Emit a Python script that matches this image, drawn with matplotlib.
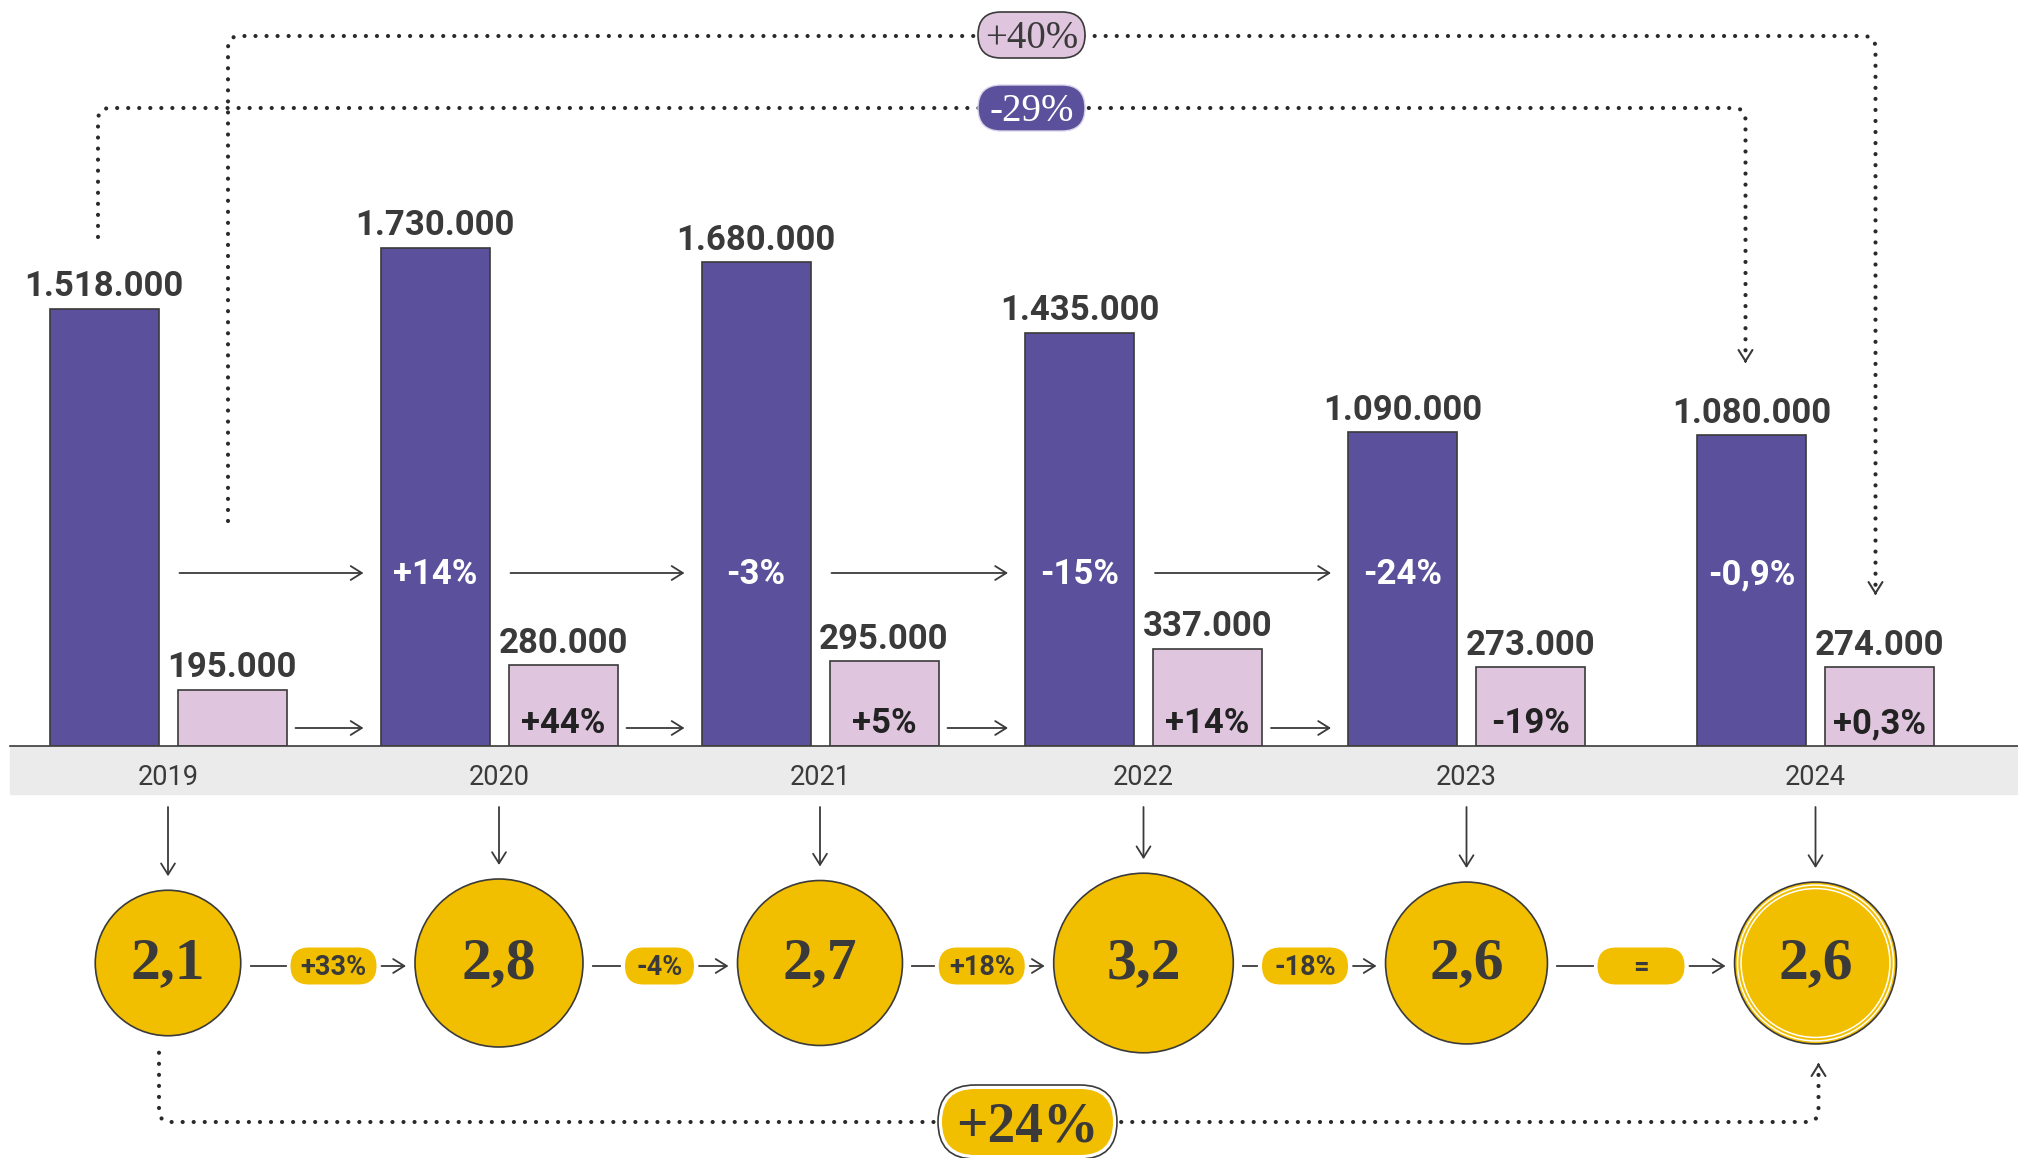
import matplotlib.pyplot as plt
import numpy as np
from matplotlib.patches import Circle, FancyBboxPatch, PathPatch, Rectangle
from matplotlib.path import Path

# ----------------------------------------------------
# Datos
# ----------------------------------------------------
years = ['2019', '2020', '2021', '2022', '2023', '2024']
total = [1518, 1730, 1680, 1435, 1090, 1080]      # miles
total_change = ['', '+14%', '-3%', '-15%', '-24%', '-0,9%']
small = [195, 280, 295, 337, 273, 274]            # miles
small_change = ['', '+44%', '+5%', '+14%', '-19%', '+0,3%']
ratio = [2.1, 2.8, 2.7, 3.2, 2.6, 2.6]
ratio_labels = ['2,1', '2,8', '2,7', '3,2', '2,6', '2,6']
ratio_change = ['+33%', '-4%', '+18%', '-18%', '=']
total_span = '-29%'
small_span = '+40%'
ratio_span = '+24%'

PURPLE = '#5b509b'
PINK = '#dfc6de'
YELLOW = '#f2be00'
DARK = '#3a3a3a'
BAND = '#ebebeb'
SANS = ['Roboto', 'DejaVu Sans']
SERIF = ['Liberation Serif', 'DejaVu Serif']

# ----------------------------------------------------
# Layout (pixels)
# ----------------------------------------------------
W, H = 2018, 1158
base = 746                 # fila de la linea base
px_per_k = 0.2879          # pixeles por mil
centers = np.array([168, 499, 820, 1143.5, 1466.5, 1815.5])
bw = 109
xp = centers - 64          # barras moradas
xk = centers + 64          # barras rosas
bub_y = 963

fig = plt.figure(figsize=(W / 100, H / 100), dpi=100)
axb = fig.add_axes([0, (H - base) / H, 1, base / H])
axb.set_xlim(0, W)
axb.set_ylim(0, base / px_per_k)
axb.axis('off')

ax = fig.add_axes([0, 0, 1, 1])
ax.set_xlim(0, W)
ax.set_ylim(H, 0)
ax.axis('off')


def row_of(v):
    # fila (overlay) de un valor del eje de barras
    return ax.transData.inverted().transform(axb.transData.transform((0, v)))[1]


def arrow(x0, y0, x1, y1, lw=1.3, ms=10):
    ax.annotate('', xy=(x1, y1), xytext=(x0, y0),
                arrowprops=dict(arrowstyle='->,head_length=0.8,head_width=0.5',
                                color=DARK, lw=lw, shrinkA=0, shrinkB=0,
                                mutation_scale=ms))


def dotted(pts, r=12):
    verts, codes = [pts[0]], [Path.MOVETO]
    for k in range(1, len(pts) - 1):
        p0, p1, p2 = (np.array(p, float) for p in pts[k - 1:k + 2])
        d0 = (p1 - p0) / np.linalg.norm(p1 - p0)
        d1 = (p2 - p1) / np.linalg.norm(p2 - p1)
        verts += [p1 - d0 * r, p1, p1 + d1 * r]
        codes += [Path.LINETO, Path.CURVE3, Path.CURVE3]
    verts.append(pts[-1])
    codes.append(Path.LINETO)
    ax.add_patch(PathPatch(Path(verts, codes), fill=False, ec='#2a2a2a', lw=3.0,
                           linestyle=(0, (0.01, 2.64)), capstyle='round', zorder=2))


def pill(xc, yc, w, h, fc, ec='none', lw=1.2, z=4):
    ax.add_patch(FancyBboxPatch((xc - w / 2, yc - h / 2), w, h,
                                boxstyle=f'round,pad=0,rounding_size={h / 2}',
                                fc=fc, ec=ec, lw=lw, zorder=z))


# ----------------------------------------------------
# Barras
# ----------------------------------------------------
axb.bar(xp, total, width=bw, color=PURPLE, edgecolor=DARK, linewidth=1.2)
axb.bar(xk, small, width=bw, color=PINK, edgecolor=DARK, linewidth=1.2)

for x, v in zip(xp, total):
    axb.annotate(f'{v * 1000:,}'.replace(',', '.'), (x, v), xytext=(0, 9),
                 textcoords='offset points', ha='center', va='baseline',
                 fontsize=25, fontweight='bold', family=SANS, color=DARK)
for x, v in zip(xk, small):
    axb.annotate(f'{v * 1000:,}'.replace(',', '.'), (x, v), xytext=(0, 9),
                 textcoords='offset points', ha='center', va='baseline',
                 fontsize=25, fontweight='bold', family=SANS, color=DARK)

for i in range(1, len(years)):
    ax.text(xp[i], 584, total_change[i], ha='center', va='baseline', fontsize=25,
            fontweight='bold', family=SANS, color='white', zorder=5)
    ax.text(xk[i], 733, small_change[i], ha='center', va='baseline', fontsize=25,
            fontweight='bold', family=SANS, color='#222222', zorder=5)

# flechas entre anos (2019 -> 2023)
for i in range(4):
    arrow(xk[i] - bw / 2 + 2, 573, xp[i + 1] - bw / 2 - 17, 573)
    arrow(xk[i] + bw / 2 + 9, 728, xp[i + 1] - bw / 2 - 17, 728)

# banda de anos
ax.add_patch(Rectangle((10, base), W - 10, 48, color=BAND, zorder=0))
ax.plot([10, W], [base, base], color=DARK, lw=1.2, zorder=3)
for c, y in zip(centers, years):
    ax.text(c, 785, y, ha='center', va='baseline', fontsize=19.5, family=SANS, color=DARK)

# ----------------------------------------------------
# Burbujas
# ----------------------------------------------------
radii = 50.2 * np.sqrt(ratio)
for i, (c, r, lab) in enumerate(zip(centers, radii, ratio_labels)):
    ax.add_patch(Circle((c, bub_y), r, fc=YELLOW, ec=DARK, lw=1.2, zorder=3))
    if i == len(ratio) - 1:
        ax.add_patch(Circle((c, bub_y), r - 3, fill=False, ec='white', lw=1.1, zorder=3))
        ax.add_patch(Circle((c, bub_y), r - 6.5, fill=False, ec='white', lw=1.1, zorder=3))
    ax.text(c, bub_y + 15, lab, ha='center', va='baseline', fontsize=43,
            fontweight='bold', family=SERIF, color=DARK, zorder=5)
    arrow(c, 807, c, bub_y - r - 14)

for i, t in enumerate(ratio_change):
    pc = (centers[i] + centers[i + 1]) / 2
    pw = 18 + 17 * len(t) if len(t) > 1 else 87
    pill(pc, 966, pw, 37, YELLOW)
    ax.text(pc, 975, t, ha='center', va='baseline', fontsize=19.5, fontweight='bold',
            family=SANS, color=DARK, zorder=5)
    ax.plot([centers[i] + radii[i] + 10, pc - pw / 2 - 5], [966, 966], color=DARK, lw=1.3)
    arrow(pc + pw / 2 + 5, 966, centers[i + 1] - radii[i + 1] - 9, 966)

# ----------------------------------------------------
# Conectores punteados
# ----------------------------------------------------
# morado 2019 -> 2024
x0, x1 = xp[0] - 6, xp[-1] - 6
tip = row_of(total[-1]) - 72
dotted([(x0, row_of(total[0]) - 72), (x0, 108), (x1, 108), (x1, tip - 4)])
arrow(x1, tip - 3, x1, tip, lw=1.5)
pill(1031.5, 108, 107, 46, PURPLE, ec='#d9d4ea', lw=1.0)
ax.text(1031.5, 121, total_span, ha='center', va='baseline', fontsize=28,
        family=SERIF, color='white', zorder=5)

# rosa 2019 -> 2024
x0, x1 = xk[0] - 4, xk[-1] - 4
tip = row_of(small[-1]) - 72
dotted([(x0, 521), (x0, 36), (x1, 36), (x1, tip - 4)])
arrow(x1, tip - 3, x1, tip, lw=1.5)
pill(1031.5, 35, 107, 46, PINK, ec=DARK, lw=1.2)
ax.text(1031.5, 48, small_span, ha='center', va='baseline', fontsize=28,
        family=SERIF, color=DARK, zorder=5)

# burbujas 2019 -> 2024
x0, x1 = centers[0] - 9, centers[-1] + 3
tip = bub_y + radii[-1] + 19
dotted([(x0, bub_y + radii[0] + 17), (x0, 1122), (x1, 1122), (x1, tip + 4)])
arrow(x1, tip + 3, x1, tip, lw=1.5)
pill(1027.5, 1122, 179, 74, 'white', ec=DARK, lw=1.2)
pill(1027.5, 1122, 171, 66, YELLOW)
ax.text(1027.5, 1141, ratio_span, ha='center', va='baseline', fontsize=40,
        fontweight='bold', family=SERIF, color=DARK, zorder=5)

fig.savefig('out.png', dpi=100)
